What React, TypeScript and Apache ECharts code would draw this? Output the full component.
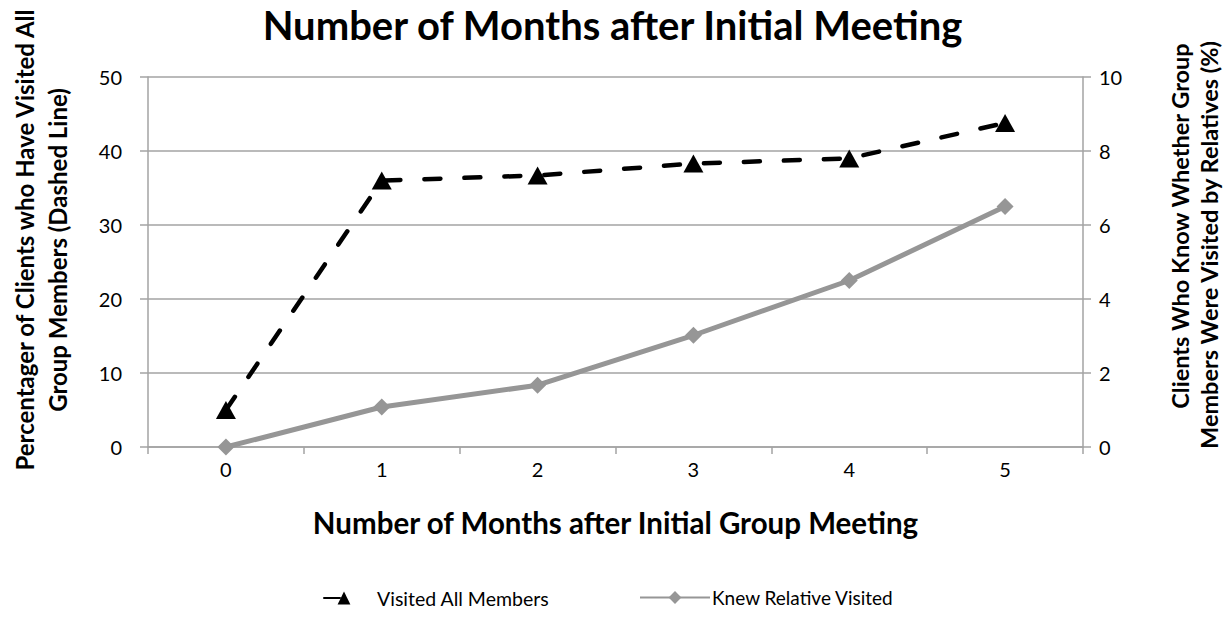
import React, { useEffect, useRef } from "react";
import * as echarts from "echarts";

const months = ["0", "1", "2", "3", "4", "5"];
const visitedAll = [5.0, 36.0, 36.7, 38.3, 39.0, 43.8];
const knewRelative = [0.0, 1.08, 1.67, 3.02, 4.5, 6.5];
const leftTicks = { min: 0, max: 50, interval: 10 };
const rightTicks = { min: 0, max: 10, interval: 2 };

const titleText = "Number of Months after Initial Meeting";
const xName = "Number of Months after Initial Group Meeting";
const leftNameLines = ["Percentager of Clients who Have Visited All", "Group Members (Dashed Line)"];
const rightNameLines = ["Clients Who Know Whether Group", "Members Were Visited by Relatives (%)"];
const seriesNames = ["Visited All Members", "Knew Relative Visited"];

const FONT = "Lato, 'Open Sans', sans-serif";
const AXIS_GRAY = "#a3a3a3";
const LINE_GRAY = "#969696";

function vText(text: string, x: number, y: number, size: number) {
  return {
    type: "text",
    x,
    y,
    rotation: Math.PI / 2,
    style: {
      text,
      font: `bold ${size}px ${FONT}`,
      fill: "#000",
      align: "center",
      verticalAlign: "middle",
    },
  };
}

export default function App() {
  const ref = useRef<HTMLDivElement>(null);
  useEffect(() => {
    if (!ref.current) return;
    const chart = echarts.init(ref.current, null, { renderer: "svg" });
    chart.setOption({
      animation: false,
      backgroundColor: "#ffffff",
      title: {
        text: titleText,
        left: "center",
        top: 0,
        textStyle: { fontFamily: FONT, fontWeight: "bold", fontSize: 40, color: "#000" },
      },
      grid: { left: 148, right: 142, top: 77, bottom: 192 },
      legend: [
        {
          data: [seriesNames[0]],
          left: 318,
          top: 583,
          itemWidth: 40,
          itemHeight: 16,
          textStyle: { fontFamily: FONT, fontSize: 19.5, color: "#000", padding: [0, 0, 0, 8] },
        },
        {
          data: [seriesNames[1]],
          left: 634,
          top: 583,
          itemWidth: 70,
          itemHeight: 16,
          textStyle: { fontFamily: FONT, fontSize: 19, color: "#000", padding: [0, 0, 0, -3] },
        },
      ],
      xAxis: {
        type: "category",
        data: months,
        boundaryGap: true,
        name: xName,
        nameLocation: "middle",
        nameGap: 60,
        nameTextStyle: { fontFamily: FONT, fontWeight: "bold", fontSize: 29.5, color: "#000" },
        axisLine: { lineStyle: { color: AXIS_GRAY, width: 1.5 } },
        axisTick: { show: true, interval: 0, length: 7, lineStyle: { color: AXIS_GRAY, width: 1.5 } },
        axisLabel: { fontFamily: FONT, fontSize: 20, color: "#000", margin: 12 },
      },
      yAxis: [
        {
          type: "value",
          ...leftTicks,
          axisLine: { show: true, lineStyle: { color: AXIS_GRAY, width: 1.5 } },
          axisTick: { show: true, length: 8, lineStyle: { color: AXIS_GRAY, width: 1.5 } },
          splitLine: { show: true, lineStyle: { color: AXIS_GRAY, width: 1.5 } },
          axisLabel: { fontFamily: FONT, fontSize: 20, color: "#000", margin: 26 },
        },
        {
          type: "value",
          position: "right",
          ...rightTicks,
          axisLine: { show: true, lineStyle: { color: AXIS_GRAY, width: 1.5 } },
          axisTick: { show: true, length: 8, lineStyle: { color: AXIS_GRAY, width: 1.5 } },
          splitLine: { show: false },
          axisLabel: { fontFamily: FONT, fontSize: 20, color: "#000", margin: 16 },
        },
      ],
      graphic: [
        vText(leftNameLines[0], 24, 240, 24),
        vText(leftNameLines[1], 57, 250, 24),
        vText(rightNameLines[0], 1180, 226, 23.5),
        vText(rightNameLines[1], 1209, 245, 23.5),
      ],
      series: [
        {
          name: seriesNames[0],
          type: "line",
          yAxisIndex: 0,
          data: visitedAll,
          symbol: "triangle",
          symbolSize: [20, 18],
          itemStyle: { color: "#000" },
          lineStyle: { color: "#000", width: 4.5, type: [16, 24], cap: "round" },
          z: 3,
        },
        {
          name: seriesNames[1],
          type: "line",
          yAxisIndex: 1,
          data: knewRelative,
          symbol: "diamond",
          symbolSize: 17,
          itemStyle: { color: LINE_GRAY },
          lineStyle: { color: LINE_GRAY, width: 5 },
          z: 2,
        },
      ],
    });
    return () => chart.dispose();
  }, []);
  return <div ref={ref} style={{ position: "fixed", left: 0, top: 0, width: 1225, height: 639 }} />;
}
